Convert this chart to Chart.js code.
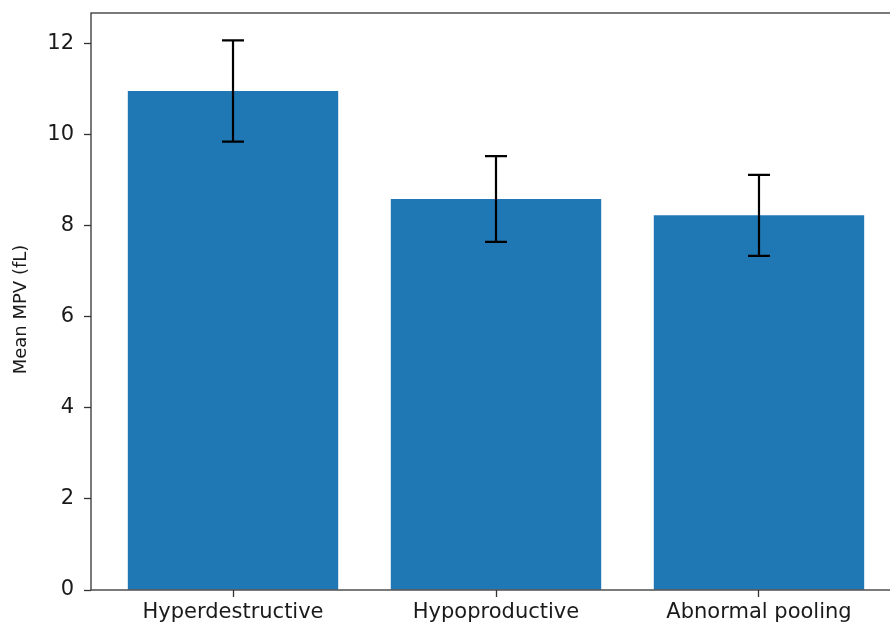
<!DOCTYPE html>
<html>
<head>
<meta charset="utf-8">
<script src="https://cdn.jsdelivr.net/npm/chart.js@4.4.1/dist/chart.umd.min.js"></script>
<style>
  html, body { margin: 0; padding: 0; background: #fff; overflow: hidden; width: 890px; height: 626px; }
  canvas { display: block; }
</style>
</head>
<body>
<canvas id="c" width="910" height="626"></canvas>
<script>
const categories = ["Hyperdestructive", "Hypoproductive", "Abnormal pooling"];
const meanMPV = [10.95, 8.58, 8.22];
const errMPV = [1.11, 0.94, 0.89];
const yTicks = [0, 2, 4, 6, 8, 10, 12];
const yAxisTitle = "Mean MPV (fL)";

const FONT = "'DejaVu Sans', sans-serif";
const TEXT = "#1a1a1a";

const errorBars = {
  id: "errorBars",
  afterDatasetsDraw(chart) {
    const ctx = chart.ctx, xs = chart.scales.x, ys = chart.scales.y;
    ctx.save();
    ctx.strokeStyle = "#000";
    ctx.lineWidth = 2.2;
    meanMPV.forEach((v, i) => {
      const x = xs.getPixelForValue(i);
      const yt = ys.getPixelForValue(v + errMPV[i]);
      const yb = ys.getPixelForValue(v - errMPV[i]);
      ctx.beginPath();
      ctx.moveTo(x, yt); ctx.lineTo(x, yb);
      ctx.moveTo(x - 11, yt); ctx.lineTo(x + 11, yt);
      ctx.moveTo(x - 11, yb); ctx.lineTo(x + 11, yb);
      ctx.stroke();
    });
    ctx.restore();
  }
};

const frameAndTitle = {
  id: "frameAndTitle",
  afterDraw(chart) {
    const a = chart.chartArea, ctx = chart.ctx;
    ctx.save();
    ctx.strokeStyle = "#333";
    ctx.lineWidth = 1.3;
    ctx.strokeRect(a.left, a.top, a.right - a.left, a.bottom - a.top);
    ctx.translate(21, (a.top + a.bottom) / 2 + 8);
    ctx.rotate(-Math.PI / 2);
    ctx.fillStyle = TEXT;
    ctx.font = "18px " + FONT;
    ctx.textAlign = "center";
    ctx.textBaseline = "middle";
    ctx.fillText(yAxisTitle, 0, 0);
    ctx.restore();
  }
};

new Chart(document.getElementById("c"), {
  type: "bar",
  data: {
    datasets: [{
      data: meanMPV.map((v, i) => ({ x: i, y: v })),
      backgroundColor: "#1f77b4",
      borderWidth: 0,
      barPercentage: 0.8,
      categoryPercentage: 1.0
    }]
  },
  options: {
    responsive: false,
    devicePixelRatio: 1,
    animation: false,
    layout: { padding: { top: 13, right: 9, left: 0, bottom: 0 } },
    plugins: { legend: { display: false }, tooltip: { enabled: false } },
    scales: {
      x: {
        type: "linear",
        offset: false,
        min: -0.54,
        max: 2.54,
        afterBuildTicks(s) { s.ticks = categories.map((_, i) => ({ value: i })); },
        afterFit(s) { s.height = 36; s.paddingLeft = 0; s.paddingRight = 0; },
        grid: { offset: false, drawOnChartArea: false, drawTicks: true, tickLength: 7, tickColor: "#333", tickWidth: 1.3 },
        border: { display: false },
        ticks: {
          color: TEXT,
          font: { family: FONT, size: 21 },
          padding: 3,
          maxRotation: 0,
          autoSkip: false,
          callback: (v) => categories[v] ?? ""
        }
      },
      y: {
        min: 0,
        max: 12.66,
        afterBuildTicks(s) { s.ticks = yTicks.map(v => ({ value: v })); },
        afterFit(s) { s.width = 91; s.paddingTop = 0; s.paddingBottom = 0; },
        grid: { drawOnChartArea: false, drawTicks: true, tickLength: 7, tickColor: "#333", tickWidth: 1.3 },
        border: { display: false },
        title: { display: false },
        ticks: {
          color: TEXT,
          font: { family: FONT, size: 21 },
          padding: 10
        }
      }
    }
  },
  plugins: [errorBars, frameAndTitle]
});
</script>
</body>
</html>
